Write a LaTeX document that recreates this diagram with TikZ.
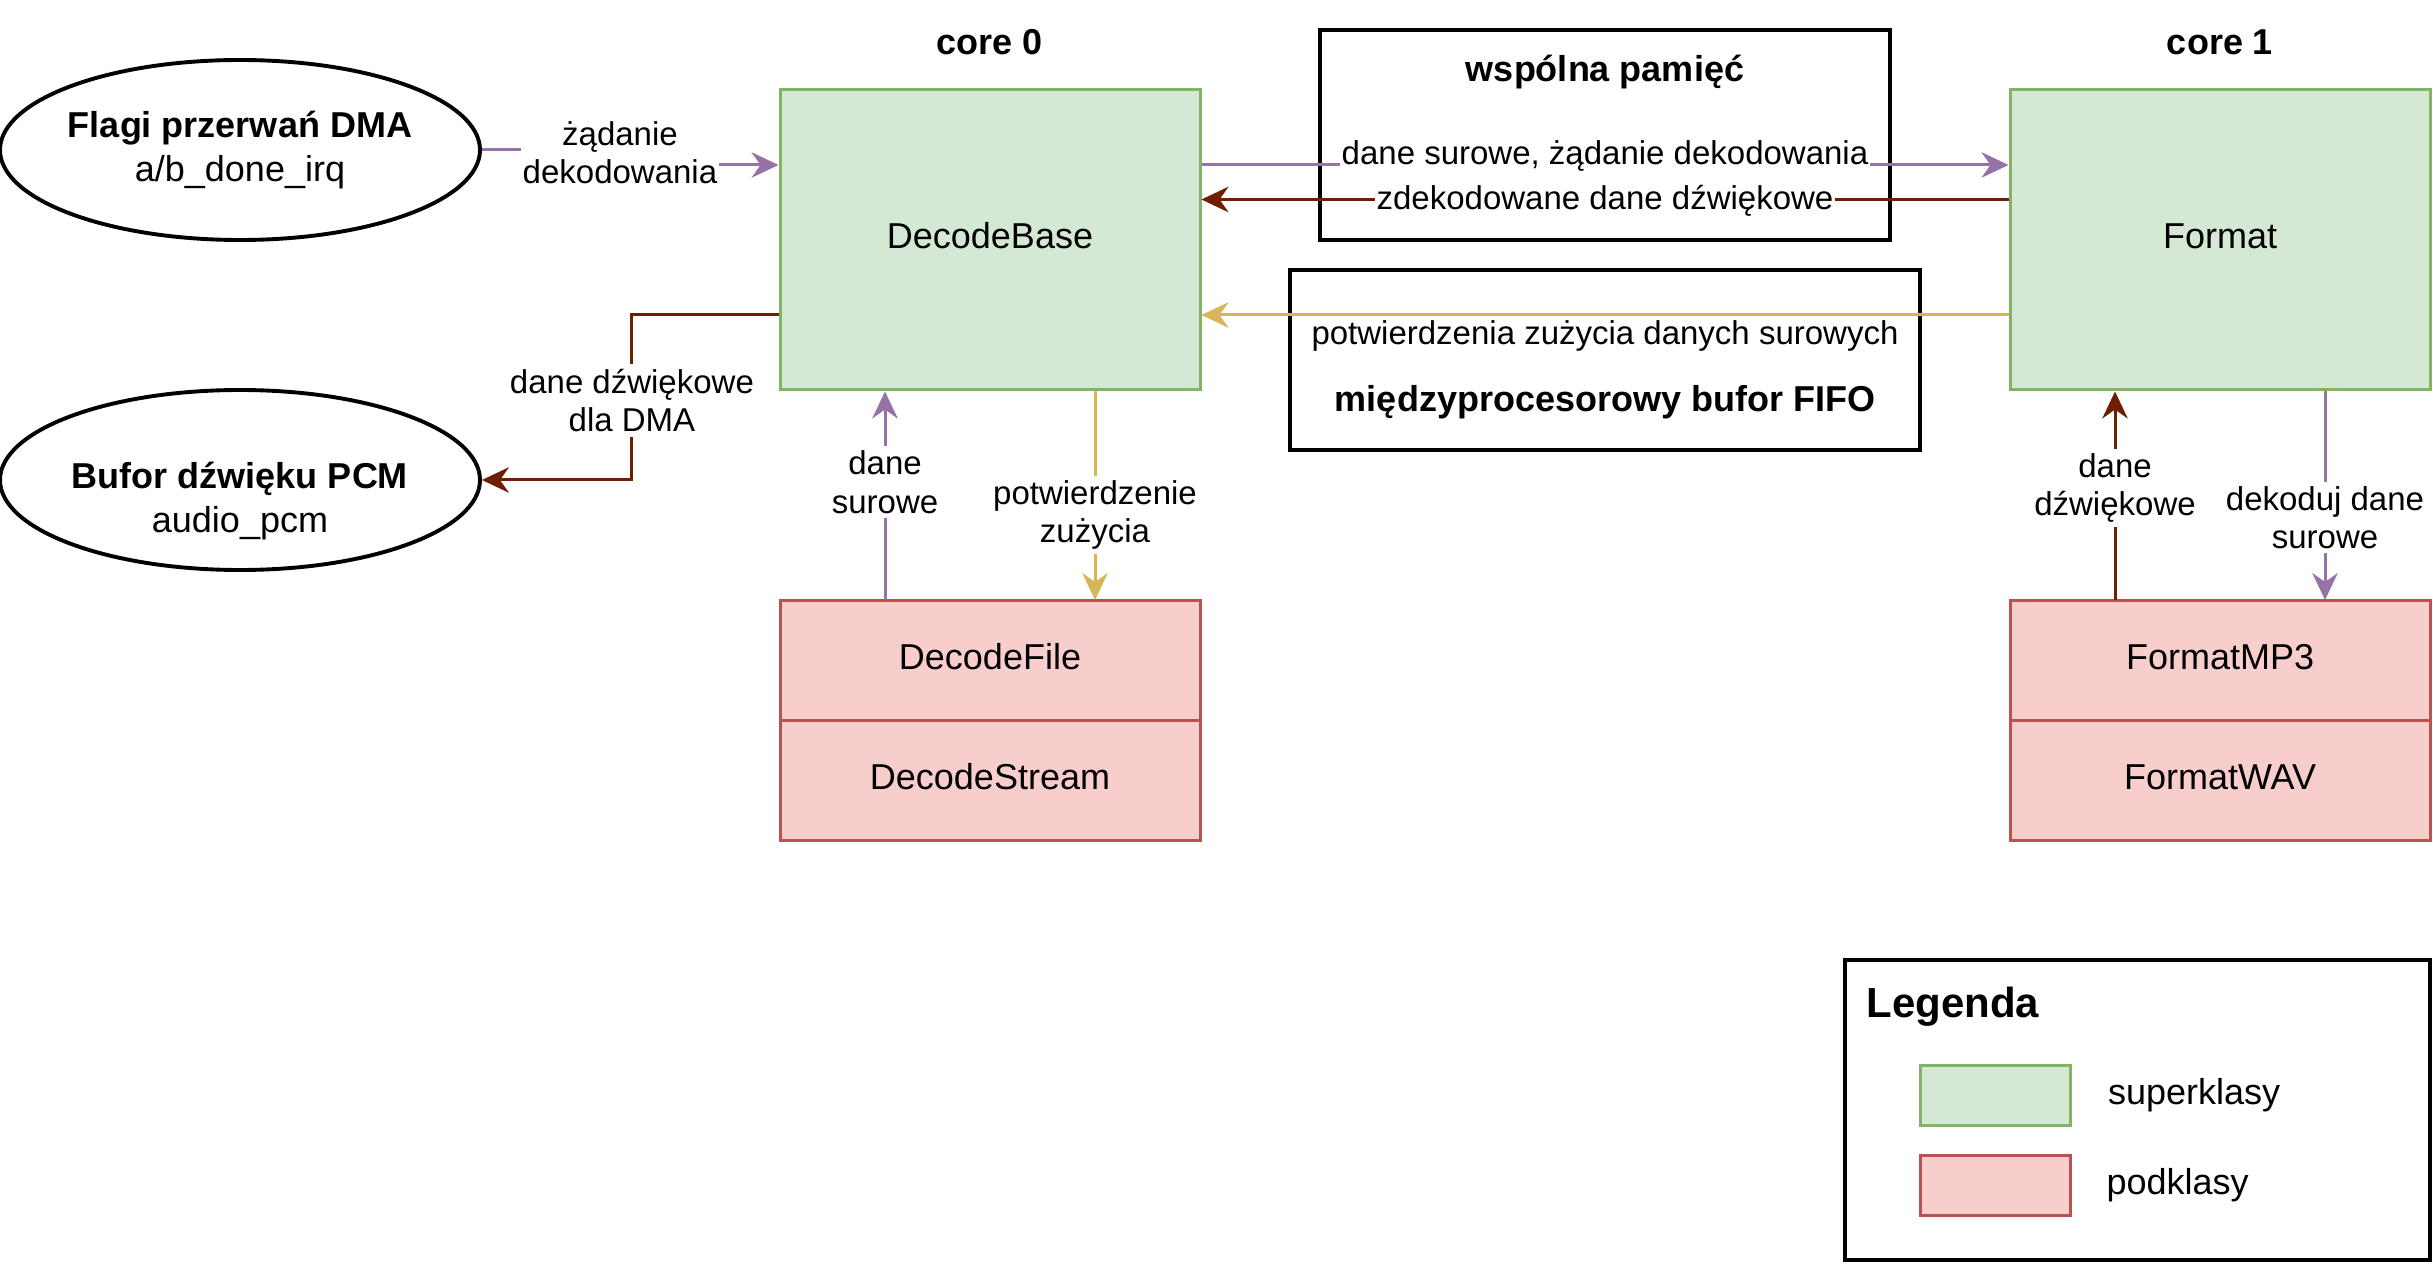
\documentclass[tikz,border=0pt]{standalone}
\usepackage{fontspec}
\setmainfont{Liberation Sans}
\usepackage{xcolor}
\usetikzlibrary{shapes.geometric, arrows.meta, positioning}
\definecolor{supfill}{HTML}{D5E8D4}
\definecolor{supdraw}{HTML}{82B366}
\definecolor{subfill}{HTML}{F8CECC}
\definecolor{subdraw}{HTML}{B85450}
\definecolor{rawpurple}{HTML}{9673A6}
\definecolor{ackgold}{HTML}{D6B656}
\definecolor{pcmbrown}{HTML}{6D1F00}
\tikzstyle{superclass} = [rectangle, minimum width=140pt, minimum height=100pt, text height=9pt, text depth=3pt, text centered, fill=supfill, draw=supdraw, line width=1pt]
\tikzstyle{subclass} = [rectangle, minimum width=140pt, minimum height=40pt, text height=9pt, text depth=3pt, text centered, fill=subfill, draw=subdraw, line width=1pt, outer sep=0pt]
\tikzstyle{source} = [ellipse, minimum width=160pt, minimum height=60pt, inner sep=0pt, draw=black, line width=1.3pt]
\tikzstyle{channel} = [rectangle, draw=black, line width=1.4pt]
\tikzstyle{heading} = [font=\fontsize{12}{14.4}\selectfont\bfseries]
\tikzstyle{lbl} = [fill=white, text=black, inner xsep=0.5pt, inner ysep=1.5pt, align=center, font=\fontsize{11}{12.8}\selectfont]
\tikzstyle{flow} = [line width=1pt, -{Stealth[length=9pt,width=8.5pt,inset=3pt]}]

\begin{document}
\begin{tikzpicture}[font=\fontsize{12}{14.4}\selectfont, x=1pt, y=1pt]
	\useasboundingbox (0,0) rectangle (811,421);
	\node (flagi) [source, label={[align=center]center:{\textbf{Flagi przerwań DMA}\\a/b\_done\_irq}}] at (80,371) {};
	\node (bufor) [source, label={[align=center, yshift=-7pt]center:{\textbf{Bufor dźwięku PCM}\\audio\_pcm}}] at (80,261) {};

	\node (decbase) [superclass] at (330,341) {DecodeBase};
	\node (core0) [heading] at (330,407) {core 0};
	\node (decfile) [subclass] at (330,201) {DecodeFile};
	\node (decstream) [subclass, below=0pt of decfile] {DecodeStream};

	\node (shared) [channel, minimum width=190pt, minimum height=70pt] at (535,376) {};
	\node (sharedtitle) [heading] at (535,397) {wspólna pamięć};
	\node (fifo) [channel, minimum width=210pt, minimum height=60pt] at (535,301) {};
	\node (fifotitle) [heading] at (535,287) {międzyprocesorowy bufor FIFO};

	\node (format) [superclass] at (740,341) {Format};
	\node (core1) [heading] at (740,407) {core 1};
	\node (fmtmp3) [subclass] at (740,201) {FormatMP3};
	\node (fmtwav) [subclass, below=0pt of fmtmp3] {FormatWAV};

	\node (legend) [channel, minimum width=195pt, minimum height=100pt] at (712.5,51) {};
	\node (legendtitle) [anchor=west, inner sep=0pt, font=\fontsize{14}{16.8}\selectfont\bfseries] at (622,85.5) {Legenda};
	\node (lgsuper) [superclass, minimum width=50pt, minimum height=20pt] at (665,56) {};
	\node (lgsupertext) [right=12pt of lgsuper, inner sep=0pt] {superklasy};
	\node (lgsub) [subclass, minimum width=50pt, minimum height=20pt] at (665,26) {};
	\node (lgsubtext) [right=12pt of lgsub, inner sep=0pt] {podklasy};

	\draw [flow, rawpurple] (flagi.east) -- ++(46,0) -- node[lbl, yshift=1.5pt] {żądanie\\dekodowania} ++(0,-5) -- ([yshift=25pt]decbase.west);
	\draw [flow, pcmbrown] ([yshift=-25pt]decbase.west) -| node[lbl, pos=0.75, yshift=-1pt] {dane dźwiękowe\\dla DMA} ([xshift=50pt]bufor.east) -- (bufor.east);
	\draw [flow, rawpurple] ([xshift=-35pt]decfile.north) -- node[lbl, yshift=4.5pt] {dane\\surowe} ([xshift=-35pt]decbase.south);
	\draw [flow, ackgold] ([xshift=35pt]decbase.south) -- node[lbl, yshift=-6.4pt] {potwierdzenie\\zużycia} ([xshift=35pt]decfile.north);
	\draw [flow, rawpurple] ([yshift=25pt]decbase.east) -- node[lbl, yshift=3pt] {dane surowe, żądanie dekodowania} ([yshift=25pt]format.west);
	\draw [flow, pcmbrown] ([yshift=13.5pt]format.west) -- node[lbl, yshift=-0.5pt] {zdekodowane dane dźwiękowe} ([yshift=13.5pt]decbase.east);
	\draw [flow, ackgold] ([yshift=-25pt]format.west) -- node[lbl, yshift=-7pt] {potwierdzenia zużycia danych surowych} ([yshift=-25pt]decbase.east);
	\draw [flow, pcmbrown] ([xshift=-35pt]fmtmp3.north) -- node[lbl, yshift=2.5pt] {dane\\dźwiękowe} ([xshift=-35pt]format.south);
	\draw [flow, rawpurple] ([xshift=35pt]format.south) -- node[lbl, yshift=-7.3pt] {dekoduj dane\\surowe} ([xshift=35pt]fmtmp3.north);
\end{tikzpicture}
\end{document}
